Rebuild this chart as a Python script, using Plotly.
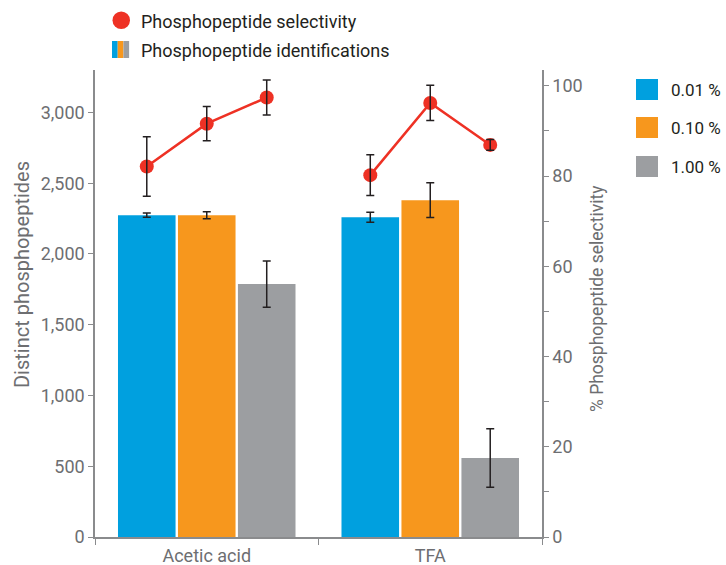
import plotly.graph_objects as go

# ---------------- data ----------------
categories = ["Acetic acid", "TFA"]
series_names = ["0.01 %", "0.10 %", "1.00 %"]

ids_001 = [2274, 2260]
ids_001_err = [15, 35]
ids_010 = [2274, 2380]
ids_010_err = [25, 123]
ids_100 = [1787, 558]
ids_100_err = [163, 207]

sel_acetic = [82.1, 91.6, 97.4]
sel_acetic_err = [6.6, 3.8, 3.9]
sel_tfa = [80.2, 96.2, 86.9]
sel_tfa_err = [4.5, 3.9, 1.2]

left_ticks = [0, 500, 1000, 1500, 2000, 2500, 3000]
right_ticks = [0, 20, 40, 60, 80, 100]

# ---------------- style ----------------
colors = ["#00a0df", "#f7971d", "#9c9ea1"]
red = "#ee3124"
axis_gray = "#8a8b8d"
tick_gray = "#6d6e71"
text_dark = "#231f20"
FONT = "Roboto, Arial, sans-serif"
BARGAP = 0.195
BARGROUPGAP = 0.04

fig = go.Figure()

bar_vals = [ids_001, ids_010, ids_100]
bar_errs = [ids_001_err, ids_010_err, ids_100_err]
for name, vals, errs, col in zip(series_names, bar_vals, bar_errs, colors):
    fig.add_trace(go.Bar(
        x=categories, y=vals, name=name, marker=dict(color=col, line=dict(width=0)),
        error_y=dict(type="data", array=errs, color=text_dark, thickness=1.5, width=4),
        showlegend=False, xaxis="x", yaxis="y",
    ))

# selectivity points sit on bar centres: computed from the bar layout
n = len(series_names)
slot = (1 - BARGAP) / n
for i, (sv, se) in enumerate([(sel_acetic, sel_acetic_err), (sel_tfa, sel_tfa_err)]):
    xs = [i + (j - (n - 1) / 2) * slot for j in range(n)]
    fig.add_trace(go.Scatter(
        x=xs, y=sv, mode="lines+markers",
        line=dict(color=red, width=2.5),
        marker=dict(color=red, size=14),
        showlegend=False, xaxis="x2", yaxis="y2", hoverinfo="skip",
    ))
    # error bars drawn on top of the markers
    fig.add_trace(go.Scatter(
        x=xs, y=sv, mode="markers",
        marker=dict(color="rgba(0,0,0,0)", size=1),
        error_y=dict(type="data", array=se, color=text_dark, thickness=1.5, width=4),
        showlegend=False, xaxis="x2", yaxis="y2",
    ))

L, R, T, B = 95, 542, 70, 537
W, H = 726, 565
fig.update_layout(
    width=W, height=H,
    margin=dict(l=L, r=W - R, t=T, b=H - B),
    paper_bgcolor="white", plot_bgcolor="white",
    barmode="group", bargap=BARGAP, bargroupgap=BARGROUPGAP,
    font=dict(family=FONT, size=18, color=tick_gray),
    showlegend=False,
    xaxis=dict(
        type="category", range=[-0.5, 1.5], showline=True, linecolor=axis_gray, linewidth=1.5,
        ticks="outside", tickson="boundaries", ticklen=6, tickcolor=axis_gray,
        tickfont=dict(size=18, color=tick_gray), showgrid=False, zeroline=False,
        automargin=False, ticklabelstandoff=2,
    ),
    xaxis2=dict(range=[-0.5, 1.5], overlaying="x", anchor="y2", visible=False),
    yaxis=dict(
        range=[0, 3300], tickvals=left_ticks, tickformat=",", showline=True,
        linecolor=axis_gray, linewidth=1.5, ticks="outside", ticklen=5, tickcolor=axis_gray,
        tickfont=dict(size=18, color=tick_gray), showgrid=False, zeroline=False,
        automargin=False,
    ),
    yaxis2=dict(
        range=[0, 103.5], tickvals=right_ticks, overlaying="y", side="right", anchor="x",
        showline=True, linecolor=axis_gray, linewidth=1.5, ticks="outside", ticklen=5,
        tickcolor=axis_gray, minor=dict(dtick=10, ticks="outside", ticklen=5, tickcolor=axis_gray),
        tickfont=dict(size=18, color=tick_gray), showgrid=False, zeroline=False,
        automargin=False,
    ),
)

# ---------------- custom legends and titles (pixel -> paper) ----------------
def px(x):
    return (x - L) / (R - L)
def py(y):
    return (B - y) / (B - T)

shapes = []
annotations = []
# axis titles
annotations.append(dict(text="Distinct phosphopeptides", xref="paper", yref="paper",
                        x=px(22), y=py(275), xanchor="center", yanchor="middle", textangle=-90,
                        showarrow=False, font=dict(size=20, color=tick_gray)))
annotations.append(dict(text="% Phosphopeptide selectivity", xref="paper", yref="paper",
                        x=px(597), y=py(299), xanchor="center", yanchor="middle", textangle=-90,
                        showarrow=False, font=dict(size=17.5, color=tick_gray)))
# top legend
shapes.append(dict(type="circle", xref="paper", yref="paper",
                   x0=px(112.5), x1=px(130), y0=py(29), y1=py(11.5),
                   fillcolor=red, line=dict(width=0)))
for k, col in enumerate(colors):
    shapes.append(dict(type="rect", xref="paper", yref="paper",
                       x0=px(112 + k * 5.7), x1=px(112 + (k + 1) * 5.7), y0=py(58), y1=py(41),
                       fillcolor=col, line=dict(width=0)))
annotations.append(dict(text="Phosphopeptide selectivity", xref="paper", yref="paper",
                        x=px(139), y=py(21), xanchor="left", yanchor="middle", showarrow=False,
                        font=dict(size=18, color=text_dark)))
annotations.append(dict(text="Phosphopeptide identifications", xref="paper", yref="paper",
                        x=px(139), y=py(51), xanchor="left", yanchor="middle", showarrow=False,
                        font=dict(size=18, color=text_dark)))
# right legend
legend_rows = [(79, 100), (117, 138), (156, 177)]
for name, col, (y0, y1) in zip(series_names, colors, legend_rows):
    shapes.append(dict(type="rect", xref="paper", yref="paper",
                       x0=px(636), x1=px(658), y0=py(y1), y1=py(y0),
                       fillcolor=col, line=dict(width=0)))
    annotations.append(dict(text=name, xref="paper", yref="paper",
                            x=px(669), y=py((y0 + y1) / 2), xanchor="left", yanchor="middle",
                            showarrow=False, font=dict(size=17, color=text_dark)))

fig.update_layout(shapes=shapes, annotations=annotations)

fig.write_html(
    "out.html",
    config={"displayModeBar": False},
    post_script="document.body.style.margin='0';document.body.style.overflow='hidden';",
)
